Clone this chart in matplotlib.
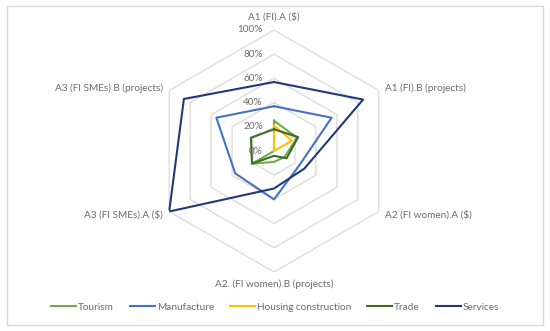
import numpy as np
import matplotlib
matplotlib.use("Agg")
import matplotlib.pyplot as plt
from matplotlib.patches import Rectangle

plt.rcParams['font.family'] = ['Lato', 'DejaVu Sans']

# data (percent)
categories = ["A1 (FI).A ($)", "A1 (FI).B (projects)", "A2 (FI women).A ($)",
              "A2. (FI women).B (projects)", "A3 (FI SMEs).A ($)", "A3 (FI SMEs).B (projects)"]
series_names = ["Tourism", "Manufacture", "Housing construction", "Trade", "Services"]
tourism = [25, 22, 10, 9, 21, 0]
manufacture = [37, 55, 24, 40, 37, 55]
housing = [21, 17, 0, 0, 0, 0]
trade = [18, 23, 12, 4, 21, 22]
services = [57, 85, 29, 31, 100, 86]
ticks = [0, 20, 40, 60, 80, 100]

colors = ["#70AD47", "#4472C4", "#FFC000", "#3E6B26", "#1F3A78"]
grey_txt = "#6b6b6b"
grid_col = "#d9d9d9"
fs = 7.2

fig = plt.figure(figsize=(5.5, 3.31), dpi=100)
fig.patches.append(Rectangle((7 / 550, 1 - 325 / 331), 536 / 550, 319 / 331,
                             transform=fig.transFigure, fill=False,
                             edgecolor=grid_col, linewidth=1))

# polar axes, centre at (274,151) px, radius 121 px
ax = fig.add_axes([153 / 550, 1 - 272 / 331, 242 / 550, 242 / 331], projection='polar')
ax.set_theta_zero_location('N')
ax.set_theta_direction(-1)
ax.set_ylim(0, 100)
ax.grid(False)
ax.set_xticks([])
ax.set_yticks([])
ax.spines['polar'].set_visible(False)
ax.patch.set_alpha(0)

n = len(categories)
angles = np.linspace(0, 2 * np.pi, n, endpoint=False)
closed = np.append(angles, angles[0])

# hexagonal rings
for t in ticks[1:]:
    ax.plot(closed, [t] * (n + 1), color=grid_col, linewidth=0.9, zorder=1)

# value labels
for t in ticks:
    ax.annotate(f"{t}%", xy=(0, t), xytext=(-11, 0), textcoords='offset pixels',
                ha='right', va='center', fontsize=fs, color=grey_txt,
                annotation_clip=False)

# category labels
offsets = [(0, 13, 'center'), (6, 2, 'left'), (6, -3, 'left'),
           (0, -12, 'center'), (-6, -3, 'right'), (-6, 2, 'right')]
for ang, lab, (dx, dy, ha) in zip(angles, categories, offsets):
    ax.annotate(lab, xy=(ang, 100), xytext=(dx, dy), textcoords='offset pixels',
                ha=ha, va='center', fontsize=fs, color=grey_txt,
                annotation_clip=False)

for name, vals, c in zip(series_names, [tourism, manufacture, housing, trade, services], colors):
    v = np.append(vals, vals[0])
    ax.plot(closed, v, color=c, linewidth=1.5, label=name, zorder=3)

fig.legend(loc='center', bbox_to_anchor=(0.5, 1 - 307 / 331), ncol=5, frameon=False,
           fontsize=fs, labelcolor=grey_txt, handlelength=2.5, handletextpad=0.2,
           columnspacing=1.6)

fig.savefig("out.png", dpi=100)
